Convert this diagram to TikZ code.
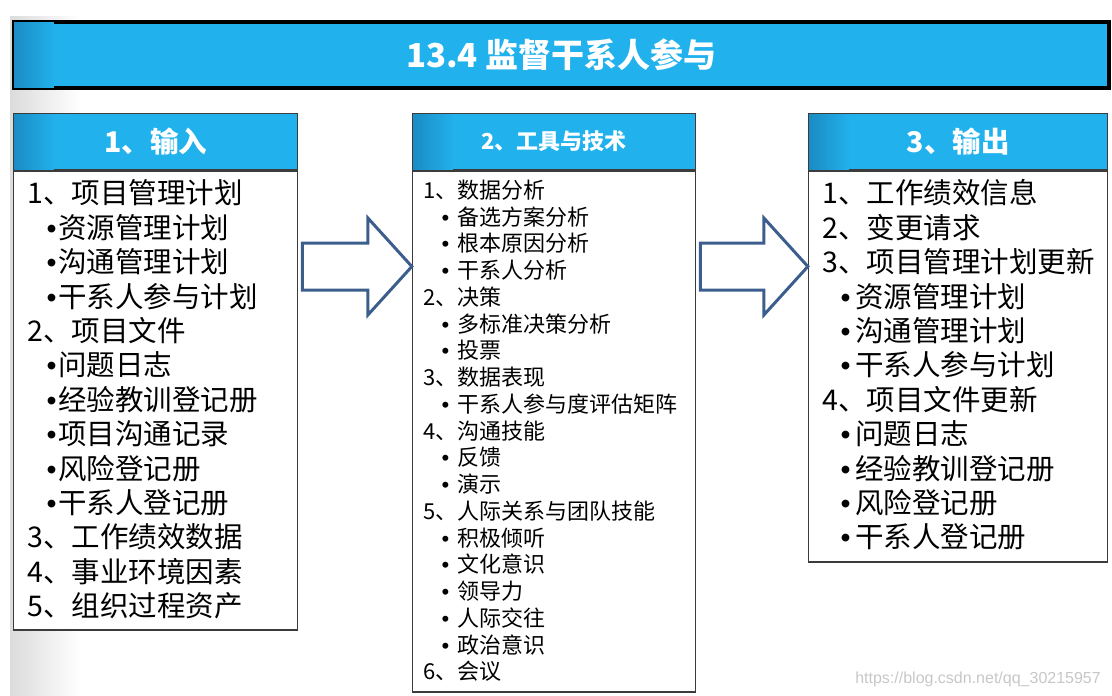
\documentclass[tikz,border=0pt]{standalone}
\usepackage{fontspec}
\setmainfont{Noto Sans CJK SC}
\newfontfamily\wmfont{Liberation Sans}
\usepackage{tikz}
\tikzset{x=1pt,y=-1pt}
\usetikzlibrary{calc, positioning}
\definecolor{hdblue}{RGB}{33,177,236}
\definecolor{hddark}{RGB}{27,140,196}
\definecolor{arrowblue}{RGB}{59,94,140}
\definecolor{edgegray}{RGB}{60,60,60}
\def\bul#1{\llap{{\wmfont •}\hspace{#1}}}
% darker fade at the left end of a blue bar
\newcommand\leftfade[2]{%
  \foreach \k [evaluate=\k as \pc using int(5*\k)] in {0,...,19}
    \fill[hdblue!\pc!hddark] ($(#1.north west)+(#2+2*\k,#2)$) rectangle ($(#1.south west)+(#2+2*\k+2.2,-#2)$);}
\tikzset{
  titlebar/.style={draw=black, line width=3.5pt, fill=hdblue, text=white,
    anchor=north west, inner sep=0pt, minimum width=1095, minimum height=66,
    font=\bfseries\fontsize{33}{33}\selectfont},
  hdbox/.style={draw=edgegray, line width=1.3pt, fill=hdblue, text=white,
    anchor=north west, inner sep=0pt, minimum height=56, font=\bfseries\fontsize{28.5}{30}\selectfont},
  bodybox/.style={draw=edgegray, line width=1.6pt, fill=white, below=0pt of #1, inner sep=0pt},
  bigitem/.style={anchor=west, inner sep=0pt, font=\fontsize{28.5}{30}\selectfont},
  smallitem/.style={anchor=west, inner sep=0pt, font=\fontsize{22}{24}\selectfont},
  blockarrow/.style={draw=arrowblue, line width=3pt, line join=miter},
  wmark/.style={anchor=east, inner sep=0pt, text=black!22, font=\wmfont\fontsize{16}{16}\selectfont}
}

\begin{document}
\begin{tikzpicture}
\useasboundingbox (0,0) rectangle (1112,696);
% grey strip on the left
\fill[left color=black!14, right color=white] (10,16) rectangle (80,696);

\node[titlebar] (title) at (12,20) {\phantom{13.4 监督干系人参与}};
\leftfade{title}{1.8}
\node[text=white, font=\bfseries\fontsize{33}{33}\selectfont, inner sep=0pt] (titletxt) at (title.center) {13.4 监督干系人参与};

% headers
\node[hdbox, minimum width=284] (inh) at (13,113) {1、输入};
\node[hdbox, minimum width=283, font=\bfseries\fontsize{22}{24}\selectfont] (tth) at (412,113) {2、工具与技术};
\node[hdbox, minimum width=299] (outh) at (808,113) {3、输出};
\leftfade{inh}{0.7}
\leftfade{tth}{0.7}
\leftfade{outh}{0.7}

% bodies
\node[bodybox=inh, minimum width=284, minimum height=459] (inb) {};
\node[bodybox=tth, minimum width=283, minimum height=521] (ttb) {};
\node[bodybox=outh, minimum width=299, minimum height=391] (outb) {};

% inputs
\foreach \lvl/\txt [count=\i from 0] in {0/1、项目管理计划, 1/资源管理计划, 1/沟通管理计划,
    1/干系人参与计划, 0/2、项目文件, 1/问题日志, 1/经验教训登记册, 1/项目沟通记录,
    1/风险登记册, 1/干系人登记册, 0/3、工作绩效数据, 0/4、事业环境因素, 0/5、组织过程资产}
  \node[bigitem] (in\i) at (27+31*\lvl, 193+34.4*\i) {\ifnum\lvl>0 \bul{1.5pt}\fi\txt};

% tools and techniques
\foreach \lvl/\txt [count=\i from 0] in {0/1、数据分析, 1/备选方案分析, 1/根本原因分析,
    1/干系人分析, 0/2、决策, 1/多标准决策分析, 1/投票, 0/3、数据表现, 1/干系人参与度评估矩阵,
    0/4、沟通技能, 1/反馈, 1/演示, 0/5、人际关系与团队技能, 1/积极倾听, 1/文化意识,
    1/领导力, 1/人际交往, 1/政治意识, 0/6、会议}
  \node[smallitem] (tt\i) at (423+34*\lvl, 190+26.75*\i) {\ifnum\lvl>0 \bul{8pt}\fi\txt};

% outputs
\foreach \lvl/\txt [count=\i from 0] in {0/1、工作绩效信息, 0/2、变更请求, 0/3、项目管理计划更新,
    1/资源管理计划, 1/沟通管理计划, 1/干系人参与计划, 0/4、项目文件更新, 1/问题日志,
    1/经验教训登记册, 1/风险登记册, 1/干系人登记册}
  \node[bigitem] (out\i) at (822+33*\lvl, 193+34.4*\i) {\ifnum\lvl>0 \bul{4.5pt}\fi\txt};

% block arrows
\foreach \from/\to in {inb/ttb, ttb/outb} {
  \coordinate (s) at ($(\from.east |- 0,266.5)+(4,0)$);
  \coordinate (t) at (\to.west |- 0,266.5);
  \draw[blockarrow] ($(s)+(0,-23.5)$) -- ($(t)+(-44,-23.5)$) -- ($(t)+(-44,-48.5)$) -- (t)
    -- ($(t)+(-44,48.5)$) -- ($(t)+(-44,23.5)$) -- ($(s)+(0,23.5)$) -- cycle;
}

\node[wmark] (wm) at (1101,679) {https://blog.csdn.net/qq\_30215957};
\end{tikzpicture}
\end{document}
